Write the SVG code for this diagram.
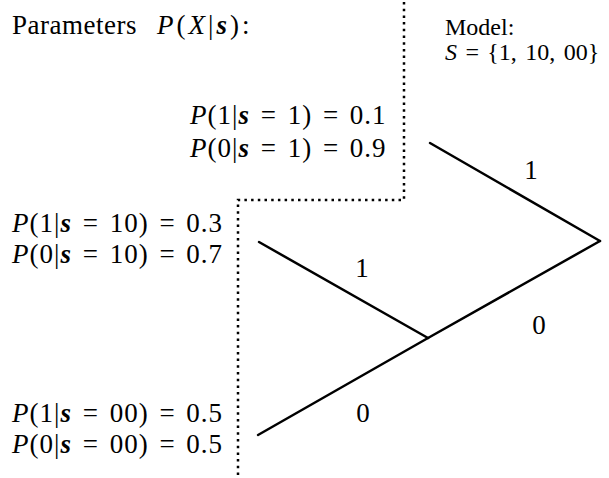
<svg xmlns="http://www.w3.org/2000/svg" width="609" height="478" viewBox="0 0 609 478">
<style>
text{font-family:"Liberation Serif","Times New Roman",serif;font-size:27px;fill:#000}
.i{font-style:italic}
.b{font-style:italic;font-weight:bold}
.p{letter-spacing:1px;word-spacing:3px}
.m{font-size:24px;word-spacing:2.4px}
.edge{stroke:#000;stroke-width:2.5;fill:none;stroke-linecap:round}
.dot{stroke:#000;stroke-width:2.5;fill:none;stroke-dasharray:2.5 4.2}
</style>
<rect width="609" height="478" fill="#fff"/>
<g id="separator">
<polyline class="dot" points="404,2 404,200 238,200 238,478"/>
</g>
<g id="header">
<text x="12" y="34" letter-spacing="0.5">Parameters</text>
<text x="157" y="34" letter-spacing="3"><tspan class="i">P</tspan>(<tspan class="i">X</tspan>|<tspan class="b">s</tspan>):</text>
</g>
<g id="model">
<text class="m" x="445" y="35">Model:</text>
<text class="m" x="445" y="60"><tspan class="i">S</tspan> = {1, 10, 00}</text>
</g>
<g id="connectors">
<line id="e-root-1" class="edge" x1="600" y1="241" x2="430" y2="143"/>
<line id="e-root-0" class="edge" x1="600" y1="241" x2="428" y2="338"/>
<line id="e-n0-1" class="edge" x1="428" y1="338" x2="259" y2="242"/>
<line id="e-n0-0" class="edge" x1="428" y1="338" x2="258" y2="435"/>
<text x="531" y="179" text-anchor="middle">1</text>
<text x="539" y="334" text-anchor="middle">0</text>
<text x="362" y="277" text-anchor="middle">1</text>
<text x="363" y="422" text-anchor="middle">0</text>
</g>
<g id="leaf-1">
<text class="p" x="190" y="124"><tspan class="i">P</tspan>(1|<tspan class="b">s</tspan> = 1) = 0.1</text>
<text class="p" x="190" y="157"><tspan class="i">P</tspan>(0|<tspan class="b">s</tspan> = 1) = 0.9</text>
</g>
<g id="leaf-10">
<text class="p" x="12" y="232"><tspan class="i">P</tspan>(1|<tspan class="b">s</tspan> = 10) = 0.3</text>
<text class="p" x="12" y="263"><tspan class="i">P</tspan>(0|<tspan class="b">s</tspan> = 10) = 0.7</text>
</g>
<g id="leaf-00">
<text class="p" x="12" y="422"><tspan class="i">P</tspan>(1|<tspan class="b">s</tspan> = 00) = 0.5</text>
<text class="p" x="12" y="453"><tspan class="i">P</tspan>(0|<tspan class="b">s</tspan> = 00) = 0.5</text>
</g>
</svg>
